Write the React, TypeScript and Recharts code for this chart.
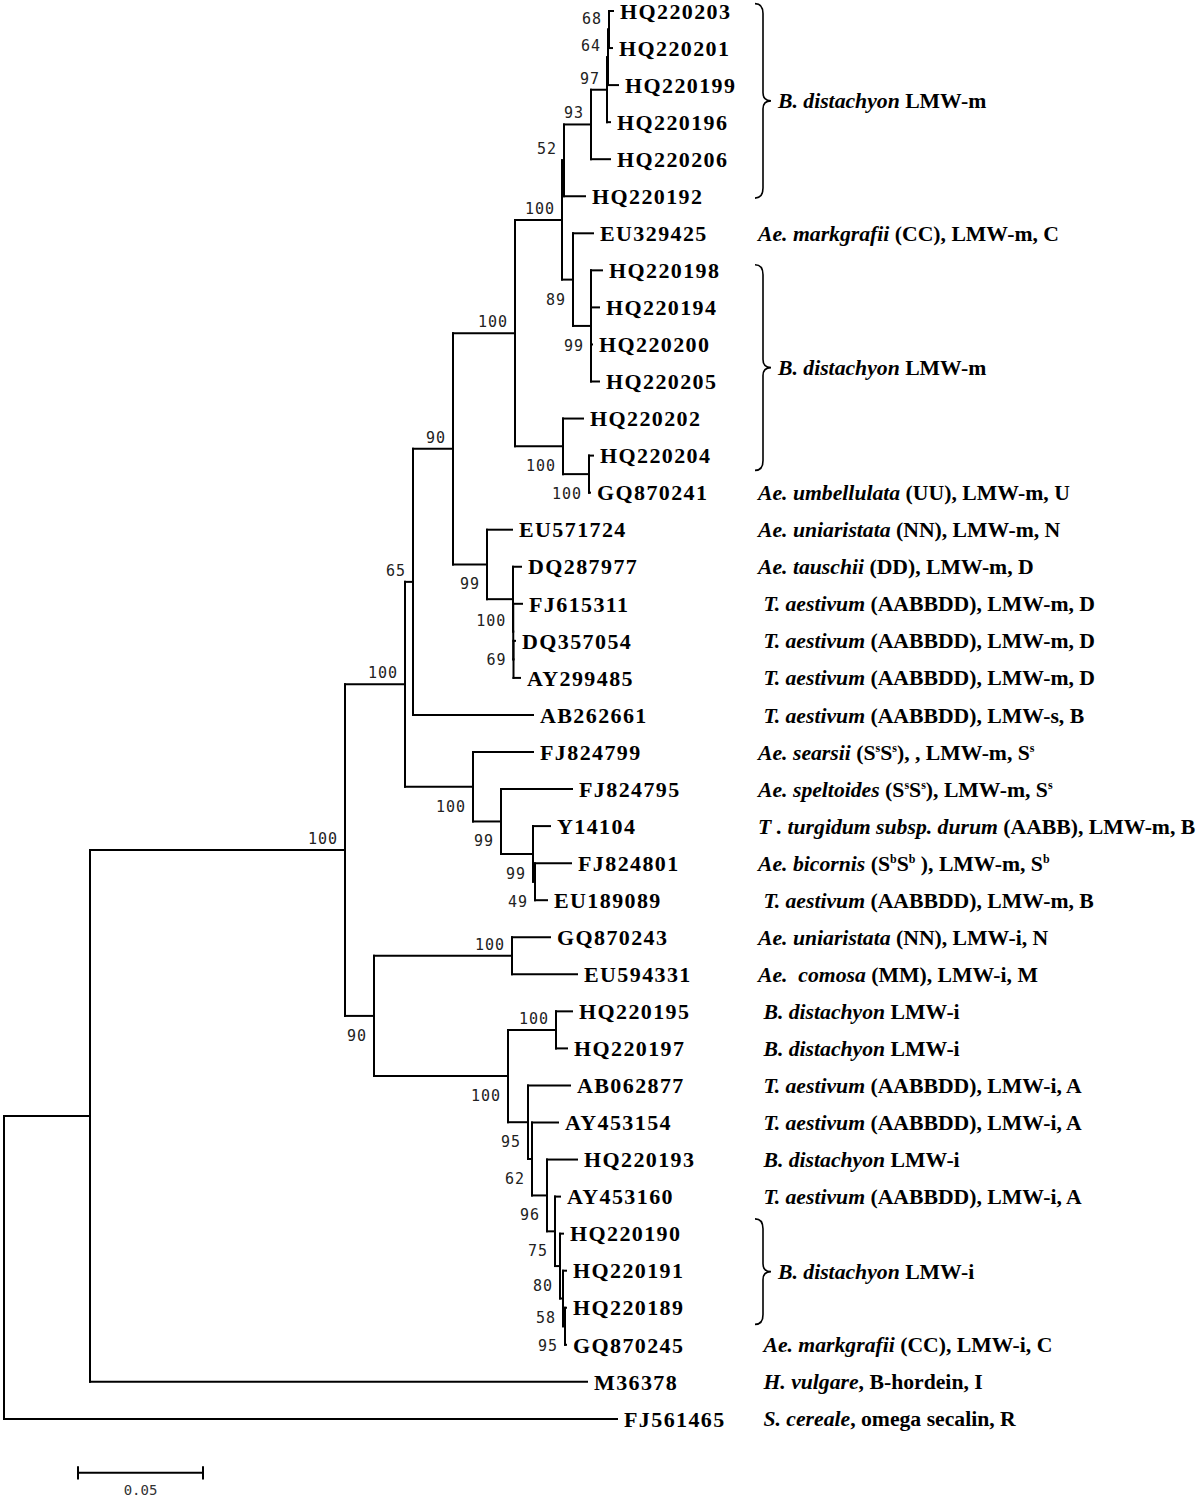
import React from 'react';
import { ScatterChart, Scatter, XAxis, YAxis, ReferenceLine } from 'recharts';

// ---------- DATA ----------
const leafNames = ['HQ220203','HQ220201','HQ220199','HQ220196','HQ220206','HQ220192','EU329425','HQ220198','HQ220194','HQ220200','HQ220205','HQ220202','HQ220204','GQ870241','EU571724','DQ287977','FJ615311','DQ357054','AY299485','AB262661','FJ824799','FJ824795','Y14104','FJ824801','EU189089','GQ870243','EU594331','HQ220195','HQ220197','AB062877','AY453154','HQ220193','AY453160','HQ220190','HQ220191','HQ220189','GQ870245','M36378','FJ561465'];

// distance from root of each leaf tip (substitutions per site)
const leafTips = [0.2436,0.2432,0.2456,0.2424,0.2424,0.2324,0.2356,0.2392,0.2380,0.2352,0.2380,0.2316,0.2356,0.2344,0.2032,0.2068,0.2072,0.2044,0.2064,0.2116,0.2116,0.2272,0.2184,0.2268,0.2172,0.2184,0.2292,0.2272,0.2252,0.2264,0.2216,0.2292,0.2224,0.2236,0.2248,0.2248,0.2248,0.2332,0.2452];

// *italic*  ^superscript^
const leafDescs = ['','','','','','',
  '*Ae. markgrafii* (CC), LMW-m, C',
  '','','','','','',
  '*Ae. umbellulata* (UU), LMW-m, U',
  '*Ae. uniaristata* (NN), LMW-m, N',
  '*Ae. tauschii* (DD), LMW-m, D',
  ' *T. aestivum* (AABBDD), LMW-m, D',
  ' *T. aestivum* (AABBDD), LMW-m, D',
  ' *T. aestivum* (AABBDD), LMW-m, D',
  ' *T. aestivum* (AABBDD), LMW-s, B',
  '*Ae. searsii* (S^s^S^s^), , LMW-m, S^s^',
  '*Ae. speltoides* (S^s^S^s^), LMW-m, S^s^',
  '*T . turgidum subsp. durum* (AABB), LMW-m, B',
  '*Ae. bicornis* (S^b^S^b^ ), LMW-m, S^b^',
  ' *T. aestivum* (AABBDD), LMW-m, B',
  '*Ae. uniaristata* (NN), LMW-i, N',
  '*Ae.  comosa* (MM), LMW-i, M',
  ' *B. distachyon* LMW-i',
  ' *B. distachyon* LMW-i',
  ' *T. aestivum* (AABBDD), LMW-i, A',
  ' *T. aestivum* (AABBDD), LMW-i, A',
  ' *B. distachyon* LMW-i',
  ' *T. aestivum* (AABBDD), LMW-i, A',
  '','','',
  ' *Ae. markgrafii* (CC), LMW-i, C',
  ' *H. vulgare*, B-hordein, I',
  ' *S. cereale*, omega secalin, R'];

const nodeIds = ['root','n90','n345','n405','n413','n453','n515','n562','n564','n591','n607','n608','n609','n573','n591b','n563','n589','n487','n513a','n513b','n513c','n473','n501','n533','n535','n374','n512','n508','n556','n528','n532','n547','n555','n560','n563b','n565'];
const nodeDepths = [0,0.0344,0.1364,0.1604,0.1636,0.1796,0.2044,0.2232,0.2240,0.2348,0.2412,0.2416,0.2420,0.2276,0.2348,0.2236,0.2340,0.1932,0.2036,0.2037,0.2038,0.1876,0.1988,0.2116,0.2124,0.1480,0.2032,0.2016,0.2208,0.2096,0.2112,0.2172,0.2204,0.2224,0.2236,0.2244];
const nodeChildren: (string | number)[][] = [
  ['n90', 38], ['n345', 37], ['n405', 'n374'], ['n413', 'n473'], ['n453', 19],
  ['n515', 'n487'], ['n562', 'n563'], ['n564', 'n573'], ['n591', 5], ['n607', 4],
  ['n608', 3], ['n609', 2], [0, 1], [6, 'n591b'], [7, 8, 9, 10],
  [11, 'n589'], [12, 13], [14, 'n513a'], [15, 'n513b'], [16, 'n513c'],
  [17, 18], [20, 'n501'], [21, 'n533'], [22, 'n535'], [23, 24],
  ['n512', 'n508'], [25, 26], ['n556', 'n528'], [27, 28], [29, 'n532'],
  [30, 'n547'], [31, 'n555'], [32, 'n560'], [33, 'n563b'], [34, 'n565'], [35, 36]];
const nodeSupports: (number | null)[] = [null,null,100,100,65,90,100,100,52,93,97,64,68,89,99,100,100,99,null,100,69,100,99,99,49,90,100,100,100,95,62,96,75,80,58,95];

const braceFrom = [-0.2, 6.85, 32.6];
const braceTo = [5.05, 12.4, 35.45];
const braceLabels = ['*B. distachyon* LMW-m', '*B. distachyon* LMW-m', '*B. distachyon* LMW-i'];

const scaleBarStart = 0.0296;
const scaleBarLength = 0.05;
const scaleBarLabel = '0.05';

// ---------- LAYOUT / STYLE ----------
const W = 1200, H = 1499;
const PX_PER_UNIT = 2500, X0 = 4;
const ROW0 = 11, ROW = 37.05;
const xDomain = [-X0 / PX_PER_UNIT, (W - X0) / PX_PER_UNIT];
const yDomain = [-ROW0 / ROW, (H - ROW0) / ROW];
const labelPos = ['', '', 'a','a','a','a','a','a','a','a','a','a','a','b','b','b','b','b','', 'a','m','b','b','b','b','b','a','b','a','b','b','b','b','b','b','b'];
const descX = 0.3016;
const braceX = 0.3036;
const braceLabelX = 0.3096;
const scaleBarY = 39.455;
const scaleLabelY = 39.93;
const DESC_FS = 21.7;

const serif = "'Liberation Serif', 'Times New Roman', serif";
const mono = "'DejaVu Sans Mono', 'Liberation Mono', monospace";

const depthOf = (id: string | number): number =>
  typeof id === 'number' ? leafTips[id] : nodeDepths[nodeIds.indexOf(id)];
const yCache: Record<string, number> = {};
const yOf = (id: string | number): number => {
  if (typeof id === 'number') return id;
  if (yCache[id] !== undefined) return yCache[id];
  const ch = nodeChildren[nodeIds.indexOf(id)];
  const v = (yOf(ch[0]) + yOf(ch[ch.length - 1])) / 2;
  yCache[id] = v;
  return v;
};

type Seg = { x1: number; y1: number; x2: number; y2: number };
const segments: Seg[] = [];
nodeIds.forEach((id, i) => {
  const x = nodeDepths[i];
  const ys = nodeChildren[i].map(yOf);
  segments.push({ x1: x, y1: Math.min(...ys), x2: x, y2: Math.max(...ys) });
  nodeChildren[i].forEach((c) => {
    const cy = yOf(c);
    segments.push({ x1: x, y1: cy, x2: depthOf(c), y2: cy });
  });
});

const leafPoints = leafNames.map((name, i) => ({ x: leafTips[i], y: i, name }));
const descPoints = [
  ...leafDescs.map((d, i) => ({ x: descX, y: i, desc: d })).filter((p) => p.desc),
  ...braceLabels.map((d, i) => ({ x: braceLabelX, y: (braceFrom[i] + braceTo[i]) / 2, desc: d })),
];
const supportPoints = nodeIds
  .map((id, i) => ({ x: nodeDepths[i], y: yOf(id), support: nodeSupports[i], pos: labelPos[i] }))
  .filter((p) => p.support !== null);
const scaleLabelPoints = [{ x: scaleBarStart + scaleBarLength / 2, y: scaleLabelY, label: scaleBarLabel }];

type Seg2 = { t: string; italic: boolean; sup: boolean };
function parseRich(s: string): Seg2[] {
  const out: Seg2[] = [];
  let italic = false, sup = false, buf = '';
  for (const ch of s) {
    if (ch === '*' || ch === '^') {
      if (buf) out.push({ t: buf, italic, sup });
      buf = '';
      if (ch === '*') italic = !italic; else sup = !sup;
    } else buf += ch;
  }
  if (buf) out.push({ t: buf, italic, sup });
  return out;
}

const RichText = ({ x, y, text }: { x: number; y: number; text: string }) => {
  const segs = parseRich(text);
  let prevSup = false;
  return (
    <text x={x} y={y} dy="0.35em" fontFamily={serif} fontWeight="bold" fontSize={DESC_FS} fill="#000" style={{ whiteSpace: 'pre' }}>
      {segs.map((s, i) => {
        let dy: number | undefined;
        if (s.sup && !prevSup) dy = -8;
        else if (!s.sup && prevSup) dy = 8;
        prevSup = s.sup;
        return (
          <tspan key={i} dy={dy} fontStyle={s.italic ? 'italic' : 'normal'} fontSize={s.sup ? 12 : DESC_FS}>{s.t}</tspan>
        );
      })}
    </text>
  );
};

const Brace = (p: any) => {
  const x = p.x1, y1 = Math.min(p.y1, p.y2), y2 = Math.max(p.y1, p.y2);
  const ym = (y1 + y2) / 2;
  const d = `M ${x - 8} ${y1} Q ${x} ${y1} ${x} ${y1 + 10} L ${x} ${ym - 8} Q ${x} ${ym} ${x + 8} ${ym} Q ${x} ${ym} ${x} ${ym + 8} L ${x} ${y2 - 10} Q ${x} ${y2} ${x - 8} ${y2}`;
  return <path d={d} fill="none" stroke="#000" strokeWidth={1.6} />;
};

export default function App() {
  return (
    <div style={{ position: 'absolute', left: 0, top: 0, width: W, height: H, background: '#fff' }}>
      <ScatterChart width={W} height={H} margin={{ top: 0, right: 0, bottom: 0, left: 0 }}>
        <XAxis type="number" dataKey="x" domain={xDomain} hide allowDataOverflow />
        <YAxis type="number" dataKey="y" domain={yDomain} hide reversed allowDataOverflow />
        {segments.map((s, i) => (
          <ReferenceLine key={`s${i}`} segment={[{ x: s.x1, y: s.y1 }, { x: s.x2, y: s.y2 }]} stroke="#000" strokeWidth={2} strokeLinecap="square" ifOverflow="visible" />
        ))}
        {braceFrom.map((f, i) => (
          <ReferenceLine key={`b${i}`} segment={[{ x: braceX, y: f }, { x: braceX, y: braceTo[i] }]} ifOverflow="visible" shape={(p: any) => <Brace {...p} />} />
        ))}
        <ReferenceLine segment={[{ x: scaleBarStart, y: scaleBarY }, { x: scaleBarStart + scaleBarLength, y: scaleBarY }]} stroke="#000" strokeWidth={2} ifOverflow="visible" />
        <ReferenceLine segment={[{ x: scaleBarStart, y: scaleBarY - 0.18 }, { x: scaleBarStart, y: scaleBarY + 0.18 }]} stroke="#000" strokeWidth={2} ifOverflow="visible" />
        <ReferenceLine segment={[{ x: scaleBarStart + scaleBarLength, y: scaleBarY - 0.18 }, { x: scaleBarStart + scaleBarLength, y: scaleBarY + 0.18 }]} stroke="#000" strokeWidth={2} ifOverflow="visible" />
        <Scatter
          data={leafPoints}
          isAnimationActive={false}
          shape={(p: any) => (
            <text x={p.cx + 7} y={p.cy} dy="0.35em" fontFamily={serif} fontWeight="bold" fontSize={22} letterSpacing={1.4} fill="#000">
              {p.payload.name}
            </text>
          )}
        />
        <Scatter
          data={descPoints}
          isAnimationActive={false}
          shape={(p: any) => <RichText x={p.cx} y={p.cy} text={p.payload.desc} />}
        />
        <Scatter
          data={supportPoints}
          isAnimationActive={false}
          shape={(p: any) => {
            const pos = p.payload.pos;
            const dy = pos === 'a' ? -6 : pos === 'b' ? 25 : 6;
            return (
              <text x={p.cx - 7} y={p.cy + dy} textAnchor="end" fontFamily={mono} fontSize={15} letterSpacing={1} fill="#222">
                {p.payload.support}
              </text>
            );
          }}
        />
        <Scatter
          data={scaleLabelPoints}
          isAnimationActive={false}
          shape={(p: any) => (
            <text x={p.cx} y={p.cy} dy="0.35em" textAnchor="middle" fontFamily={mono} fontSize={14} fill="#333">
              {p.payload.label}
            </text>
          )}
        />
      </ScatterChart>
    </div>
  );
}
